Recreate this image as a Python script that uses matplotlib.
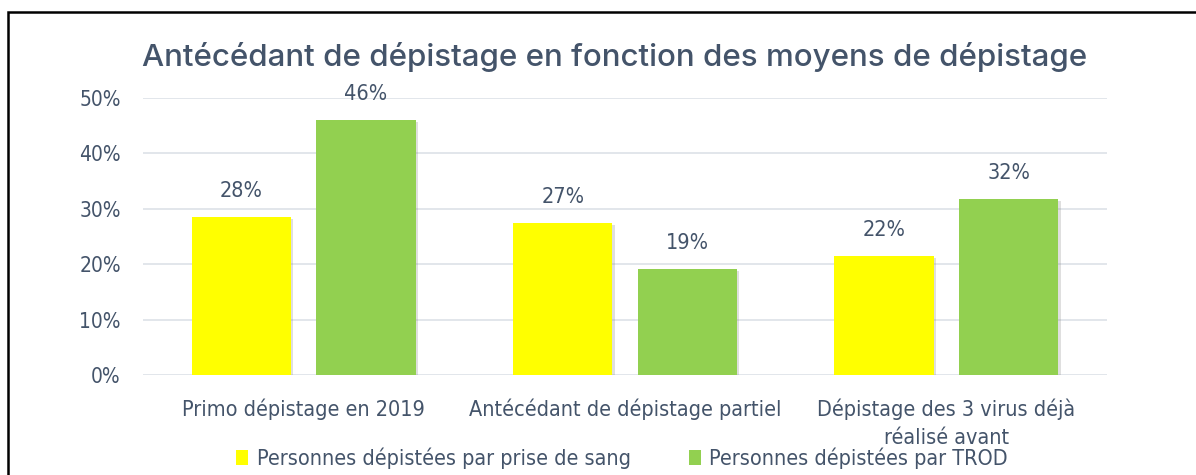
import numpy as np
import matplotlib
matplotlib.use('Agg')
import matplotlib.pyplot as plt
import matplotlib.patheffects as pe
from matplotlib.patches import Rectangle

categories = ['Primo dépistage en 2019', 'Antécédant de dépistage partiel',
              'Dépistage des 3 virus déjà\nréalisé avant']
sang = [0.285, 0.274, 0.215]
trod = [0.461, 0.191, 0.318]
sang_labels = ['28%', '27%', '22%']
trod_labels = ['46%', '19%', '32%']
series_names = ['Personnes dépistées par prise de sang', 'Personnes dépistées par TROD']

text_col = '#44546A'
yellow = '#FFFF00'
green = '#92D050'
narrow = ['DejaVu Sans']
stretch = 'condensed'
fs = 15.5

fig = plt.figure(figsize=(11.96, 4.75), dpi=100)
ax = fig.add_axes([0.1196, 0.2105, 0.806, 0.5832])

x = np.arange(len(categories))
w = 0.31
off = 0.194
shadow = [pe.SimplePatchShadow(offset=(1.5, -1.5), alpha=0.25, shadow_rgbFace='#808080'), pe.Normal()]
b1 = ax.bar(x - off, sang, w, color=yellow, label=series_names[0], zorder=3, path_effects=shadow)
b2 = ax.bar(x + off, trod, w, color=green, label=series_names[1], zorder=3, path_effects=shadow)

for xi, v, s in zip(x - off, sang, sang_labels):
    ax.text(xi, v + 0.047, s, ha='center', va='center', fontsize=fs, color=text_col, family=narrow, stretch=stretch)
for xi, v, s in zip(x + off, trod, trod_labels):
    ax.text(xi, v + 0.047, s, ha='center', va='center', fontsize=fs, color=text_col, family=narrow, stretch=stretch)

ax.set_xlim(-0.5, 2.5)
ax.set_ylim(0, 0.5)
ax.set_yticks(np.arange(0, 0.51, 0.1))
ax.set_yticklabels(['%d%%' % (t * 100) for t in np.arange(0, 0.51, 0.1)],
                   fontsize=15, color=text_col, family=narrow, stretch=stretch)
ax.set_xticks(x)
ax.set_xticklabels(categories, fontsize=fs, color=text_col, family=narrow, stretch=stretch, linespacing=1.5)
ax.tick_params(axis='both', length=0)
ax.tick_params(axis='y', pad=16)
ax.tick_params(axis='x', pad=17)
ax.grid(axis='y', color='#DDE1E7', linewidth=1.2, zorder=0)
for sp in ax.spines.values():
    sp.set_visible(False)

fig.text(0.514, 0.88, 'Antécédant de dépistage en fonction des moyens de dépistage',
         ha='center', va='center', fontsize=22.5, fontweight='medium', color=text_col,
         family=['Inter', 'DejaVu Sans'])

leg = fig.legend(handles=[b1, b2], loc='center', bbox_to_anchor=(0.52, 0.035), ncol=2,
                 frameon=False, handlelength=0.55, handleheight=0.7,
                 handletextpad=0.4, columnspacing=2.7,
                 prop={'family': narrow, 'size': fs, 'stretch': stretch})
for t in leg.get_texts():
    t.set_color(text_col)
for h in leg.legend_handles:
    h.set_path_effects([])

fig.patches.append(Rectangle((8 / 1196, -0.1), 1.2, 1 - 12 / 475 + 0.1, transform=fig.transFigure,
                             fill=False, edgecolor='black', linewidth=1.8))

fig.savefig('out.png', dpi=100)
